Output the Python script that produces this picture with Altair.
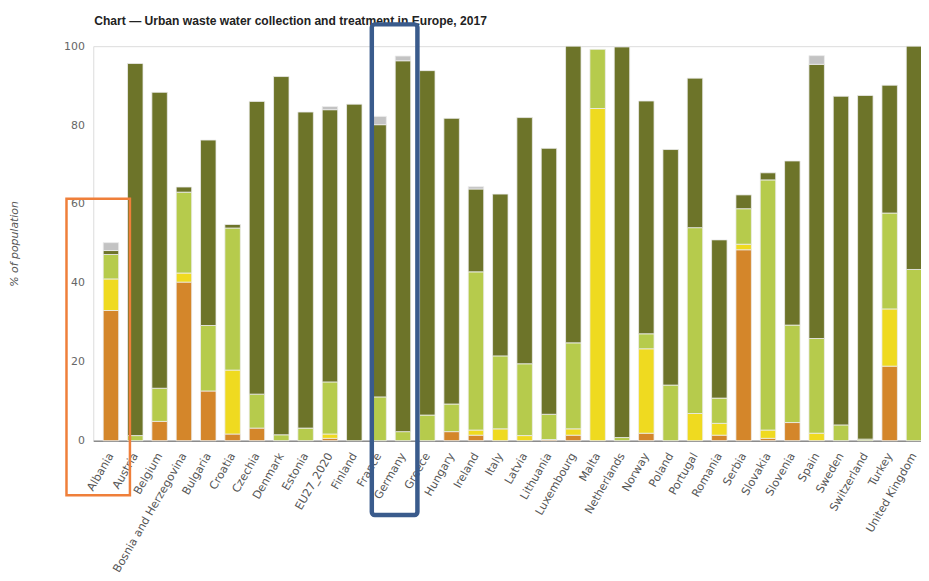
import json
import altair as alt
import pandas as pd

countries = ["Albania", "Austria", "Belgium", "Bosnia and Herzegovina", "Bulgaria", "Croatia",
             "Czechia", "Denmark", "Estonia", "EU27_2020", "Finland", "France", "Germany",
             "Greece", "Hungary", "Ireland", "Italy", "Latvia", "Lithuania", "Luxembourg",
             "Malta", "Netherlands", "Norway", "Poland", "Portugal", "Romania", "Serbia",
             "Slovakia", "Slovenia", "Spain", "Sweden", "Switzerland", "Turkey", "United Kingdom"]

no_treatment = [33.0, 0, 4.9, 40.2, 12.6, 1.7, 3.2, 0, 0, 0.6, 0, 0, 0, 0, 2.3, 1.4, 0, 0, 0.3, 1.4,
                0, 0, 1.9, 0, 0, 1.4, 48.4, 0.6, 4.6, 0, 0, 0, 18.9, 0]
primary = [8.0, 0, 0, 2.3, 0, 16.2, 0, 0, 0, 1.1, 0, 0, 0, 0, 0, 1.3, 3.0, 1.3, 0, 1.6,
           84.2, 0, 21.4, 0, 6.9, 3.0, 1.4, 2.1, 0, 1.9, 0, 0, 14.5, 0]
secondary = [6.2, 1.3, 8.4, 20.5, 16.6, 36.0, 8.6, 1.5, 3.2, 13.2, 0, 11.1, 2.3, 6.5, 7.0, 40.1, 18.5,
             18.2, 6.4, 21.8, 15.0, 0.8, 3.8, 14.1, 47.1, 6.4, 9.0, 63.4, 24.7, 24.0, 4.0, 0.4, 24.3, 43.4]
stringent = [1.0, 94.3, 75.0, 1.3, 47.0, 0.9, 74.2, 90.8, 80.1, 69.0, 85.3, 69.0, 94.0, 87.3, 72.4,
             21.0, 41.0, 62.4, 67.4, 75.2, 0, 99.0, 59.0, 59.7, 37.9, 40.1, 3.5, 1.8, 41.6, 69.5,
             83.3, 87.1, 32.4, 56.6]
other = [2.0, 0, 0, 0, 0, 0, 0, 0, 0, 0.8, 0, 2.1, 1.2, 0, 0, 0.6, 0, 0, 0, 0,
         0, 0, 0, 0, 0, 0, 0, 0, 0, 2.2, 0, 0, 0, 0]

series_names = ["Collected without treatment", "Primary treatment", "Secondary treatment",
                "More stringent treatment", "Independent and other treatment"]
series_colors = ["#d4862a", "#efda20", "#b6cb4c", "#6d7429", "#c3c3c3"]
series_values = [no_treatment, primary, secondary, stringent, other]

chart_title = "Chart \u2014 Urban waste water collection and treatment in Europe, 2017"

rows = []
for k, (name, vals) in enumerate(zip(series_names, series_values)):
    for i, (c, v) in enumerate(zip(countries, vals)):
        if v > 0:
            rows.append({"idx": i, "country": c, "category": name, "value": v, "order": k})
df = pd.DataFrame(rows)

PLOT_W = 835
PLOT_H = 398

label_expr = json.dumps(countries) + "[round(datum.value)]"

bars = alt.Chart(df).mark_bar(stroke="#ececec", strokeWidth=0.8, width=15.6).encode(
    x=alt.X("idx:Q",
            scale=alt.Scale(domain=[-0.523, 33.084], nice=False, zero=False),
            axis=alt.Axis(title=None, values=list(range(len(countries))), labelExpr=label_expr,
                          labelAngle=-60, labelAlign="right", labelBaseline="middle",
                          labelOverlap=False, labelFlush=False,
                          labelFontSize=11.3, labelColor="#555555",
                          labelFont="DejaVu Sans", ticks=False, grid=False, domainColor="#8c8c8c",
                          domainWidth=1.5, labelPadding=13, zindex=0)),
    y=alt.Y("value:Q", stack="zero",
            scale=alt.Scale(domain=[0, 100], nice=False),
            axis=alt.Axis(title="% of population", values=[0, 20, 40, 60, 80, 100], grid=False,
                          domain=False, ticks=False, labelPadding=9, labelFontSize=11,
                          labelColor="#666666", labelFont="DejaVu Sans",
                          titleFont="DejaVu Sans", titleFontStyle="italic", titleFontWeight="normal",
                          titleFontSize=11, titleColor="#555555", titleAngle=-90,
                          titleX=-79, titleY=PLOT_H / 2, titleBaseline="middle", titleAlign="center",
                          zindex=0)),
    color=alt.Color("category:N", scale=alt.Scale(domain=series_names, range=series_colors),
                    legend=None),
    order=alt.Order("order:Q"),
)

one = pd.DataFrame({"a": [0]})
title_text = alt.Chart(one).mark_text(
    text=chart_title, align="left", baseline="alphabetic", font="Liberation Sans",
    fontSize=12.2, fontWeight="bold", color="#222222").encode(
    x=alt.value(1), y=alt.value(-21))
orange_box = alt.Chart(one).mark_rect(fillOpacity=0, stroke="#ef7f3a", strokeWidth=2.5).encode(
    x=alt.value(-27), x2=alt.value(37), y=alt.value(154), y2=alt.value(453))
blue_box = alt.Chart(one).mark_rect(fillOpacity=0, stroke="#3a5b8c", strokeWidth=4.5,
                                    cornerRadius=3).encode(
    x=alt.value(281), x2=alt.value(327), y=alt.value(-22), y2=alt.value(473))

chart = alt.layer(bars, title_text, orange_box, blue_box).properties(
    width=PLOT_W, height=PLOT_H,
    autosize=alt.AutoSizeParams(type="none"),
    padding={"left": 86, "top": 36, "right": 0, "bottom": 137},
).configure_view(stroke=None).configure(background="white")

chart.save("out.html", embed_options={"renderer": "svg", "actions": False})
